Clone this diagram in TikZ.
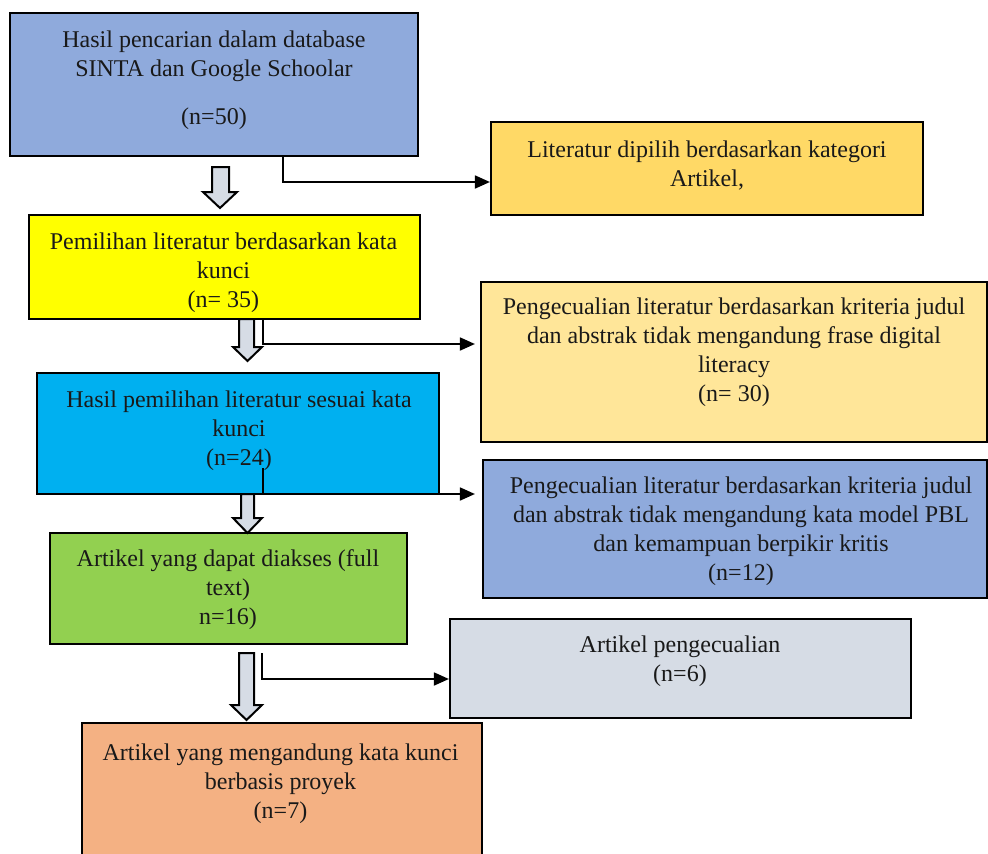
\documentclass[tikz,border=0pt]{standalone}
\usepackage{fontspec}
\setmainfont{Liberation Serif}
\usetikzlibrary{arrows.meta,calc}
\definecolor{cblue}{HTML}{8FAADC}
\definecolor{cgold}{HTML}{FFD966}
\definecolor{cyellow}{HTML}{FFFF00}
\definecolor{clight}{HTML}{FFE699}
\definecolor{ccyan}{HTML}{00B0F0}
\definecolor{cgreen}{HTML}{92D050}
\definecolor{cgrey}{HTML}{D6DCE5}
\definecolor{corange}{HTML}{F4B183}
\begin{document}
\begin{tikzpicture}[x=1pt,y=-1pt,
  box/.style={draw=black,line width=2.2pt,rectangle,inner sep=0pt},
  txt/.style={align=center,font=\fontsize{24}{29}\selectfont,inner sep=0pt,text=black!90},
  conn/.style={line width=1.8pt,-{Triangle[length=15pt,width=13pt]}},
  barrow/.style={draw=black,fill=cgrey,line width=2pt,line join=miter}]
\useasboundingbox (0,0) rectangle (988,854);
\clip (0,0) rectangle (988,854);

% boxes
\node[box,fill=cblue,minimum width=408pt,minimum height=143pt] (b1) at (214,84.5) {};
\node[box,fill=cgold,minimum width=432pt,minimum height=93pt] (b2) at (707,168.5) {};
\node[box,fill=cyellow,minimum width=391pt,minimum height=104pt] (b3) at (224.5,267) {};
\node[box,fill=clight,minimum width=506pt,minimum height=160pt] (b4) at (734,362) {};
\node[box,fill=ccyan,minimum width=402pt,minimum height=121pt] (b5) at (238,433.5) {};
\node[box,fill=cblue,minimum width=504pt,minimum height=138pt] (b6) at (735,529) {};
\node[box,fill=cgreen,minimum width=357pt,minimum height=111pt] (b7) at (228.5,588.5) {};
\node[box,fill=cgrey,minimum width=461pt,minimum height=99pt] (b8) at (680.5,668.5) {};
\node[box,fill=corange,minimum width=400pt,minimum height=157pt] (b9) at (282,801.5) {};

% texts
\node[txt] (t1) at (214,80) {Hasil pencarian dalam database\\SINTA dan Google Schoolar\\[19pt](n=50)};
\node[txt] (t2) at (707,165.5) {Literatur dipilih berdasarkan kategori\\Artikel,};
\node[txt] (t3) at (223.5,273) {Pemilihan literatur berdasarkan kata\\kunci\\(n= 35)};
\node[txt] (t4) at (734,352) {Pengecualian literatur berdasarkan kriteria judul\\dan abstrak tidak mengandung frase digital\\literacy\\(n= 30)};
\node[txt] (t5) at (239,431) {Hasil pemilihan literatur sesuai kata\\kunci\\(n=24)};
\node[txt] (t6) at (741,531) {Pengecualian literatur berdasarkan kriteria judul\\dan abstrak tidak mengandung kata model PBL\\dan kemampuan berpikir kritis\\(n=12)};
\node[txt] (t7) at (228,589.5) {Artikel yang dapat diakses (full\\text)\\n=16)};
\node[txt] (t8) at (680,661.5) {Artikel pengecualian\\(n=6)};
\node[txt] (t9) at (280.5,784) {Artikel yang mengandung kata kunci\\berbasis proyek\\(n=7)};

% side connectors
\coordinate (c3) at (263,468);
\coordinate (c4) at (262,653);
\draw[conn] ([xshift=69pt]b1.south) |- ([yshift=-13.5pt]b2.west);
\draw[conn] ([xshift=38.5pt]b3.south) |- ([xshift=-5pt,yshift=18pt]b4.west);
\draw[conn] (c3) |- ([xshift=-7pt,yshift=35pt]b6.west);
\draw[conn] (c4) |- ([yshift=-10.5pt]b8.west);

% block arrows
\draw[barrow] (212,167) -- (229,167) -- (229,192) -- (237,192) -- (220,208) -- (203,192) -- (212,192) -- cycle;
\draw[barrow] (239,319) -- (254,319) -- (254,347) -- (262,347) -- (247.5,361) -- (233,347) -- (239,347) -- cycle;
\draw[barrow] (241,494) -- (254,494) -- (254,518) -- (262,518) -- (247.5,533) -- (233,518) -- (241,518) -- cycle;
\draw[barrow] (239,653) -- (254,653) -- (254,705) -- (262,705) -- (246.5,720) -- (231,705) -- (239,705) -- cycle;
\end{tikzpicture}
\end{document}
